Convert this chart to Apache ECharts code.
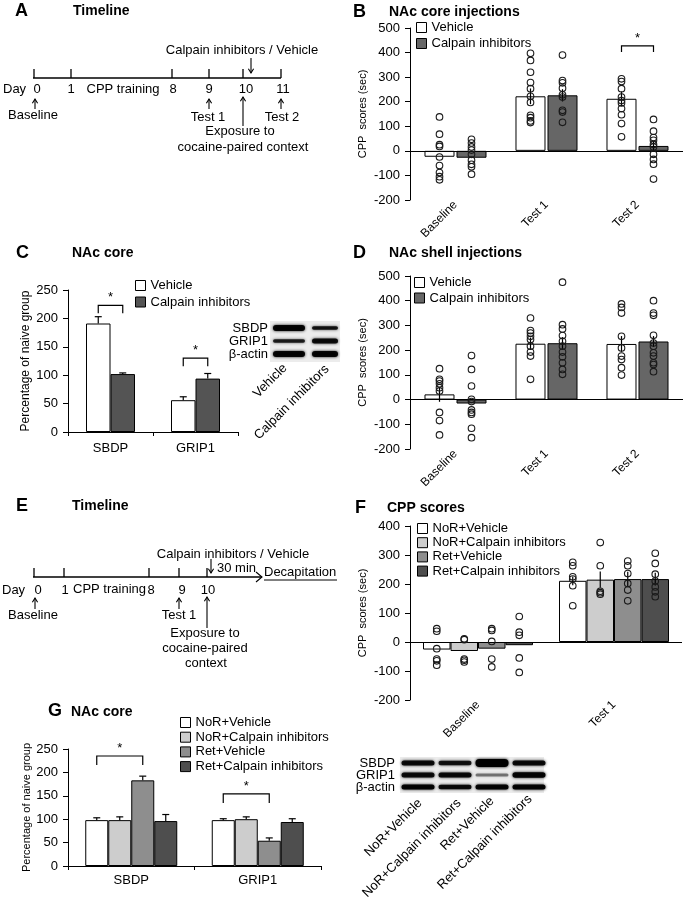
<!DOCTYPE html>
<html><head><meta charset="utf-8">
<script src="https://cdn.jsdelivr.net/npm/echarts@6/dist/echarts.min.js"></script>
<style>html,body{margin:0;padding:0;background:#fff}#c{width:684px;height:899px}</style>
</head><body><div id="c"></div>
<script>
const FONT = '"Liberation Sans", Arial, Helvetica, sans-serif';

// ---------- Panel B : NAc core injections ----------
const cppCats = ['Baseline', 'Test 1', 'Test 2'];
const bVehicleMean = [-24, 222, 212];
const bVehicleSem = [30, 32, 30];
const bCalpainMean = [-28, 226, 20];
const bCalpainSem = [18, 25, 20];
const bVehiclePts = [[138, 68, 25, 18, -25, -60, -88, -105, -118], [397, 368, 320, 278, 253, 222, 197, 145, 135, 122, 115], [293, 282, 253, 219, 205, 195, 172, 147, 111, 57]];
const bCalpainPts = [[47, 32, 16, 3, -14, -38, -55, -65, -95], [390, 286, 277, 255, 228, 219, 165, 158, 116], [128, 80, 54, 43, 26, 16, -14, -35, -54, -115]];
const bSig = [[2, 427, 0, 1]]; // category, bracket level, from bar, to bar

// ---------- Panel D : NAc shell injections ----------
const dVehicleMean = [21, 226, 225];
const dVehicleSem = [30, 25, 32];
const dCalpainMean = [-16, 228, 235];
const dCalpainSem = [28, 25, 22];
const dVehiclePts = [[125, 82, 75, 64, 48, 35, -52, -85, -143], [330, 279, 269, 256, 243, 216, 192, 176, 82], [387, 373, 350, 256, 209, 176, 162, 129, 99]];
const dCalpainPts = [[178, 122, 55, 1, -8, -42, -52, -59, -116, -154], [475, 303, 286, 259, 236, 216, 192, 173, 149, 122, 102], [400, 350, 341, 260, 229, 216, 189, 176, 149, 142, 113]];

// ---------- Panel C : NAc core western blot ----------
const proteinCats = ['SBDP', 'GRIP1'];
const cVehicleMean = [191, 56];
const cVehicleSem = [12, 6];
const cCalpainMean = [102, 94];
const cCalpainSem = [2, 9];
const cSig = [[0, 223, 0, 1], [1, 130, 0, 1]];

// ---------- Panel F : CPP scores ----------
const fCats = ['Baseline', 'Test 1'];
const groupNames = ['NoR+Vehicle', 'NoR+Calpain inhibitors', 'Ret+Vehicle', 'Ret+Calpain inhibitors'];
const fMeans = [[-26, 211], [-31, 215], [-23, 217], [-11, 217]];
const fSems = [[35, 15], [30, 28], [28, 25], [40, 22]];
const fPts = [
  [[46, 37, -23, -59, -65, -80], [275, 263, 225, 217, 194, 125]],
  [[11, 8, -59, -63, -69], [343, 263, 175, 170, 165]],
  [[46, 40, 2, -59, -86], [279, 263, 236, 202, 179, 142]],
  [[88, 34, 23, -55, -105], [306, 271, 234, 210, 190, 173, 156]]
];

// ---------- Panel G : NAc core western blot ----------
const gMeans = [[98, 98], [98, 100], [183, 54], [96, 94]];
const gSems = [[5, 3], [7, 5], [9, 6], [14, 7]];
const gSig = [[0, 235, 0, 2], [1, 154, 0, 2]];

// ---------- styles ----------
const groupColors = ['#ffffff', '#cdcdcd', '#8e8e8e', '#4e4e4e'];
const vehColor = '#ffffff', calpColorBD = '#666666', calpColorC = '#545454';

function yAxis(gi, min, max, interval, name, gap, nameSize) {
  return {
    gridIndex: gi, type: 'value', min, max, interval,
    axisLine: { show: true, lineStyle: { color: '#000', width: 1 } },
    axisTick: { show: true, length: 5, lineStyle: { color: '#000' } },
    axisLabel: { color: '#000', fontSize: 13, fontFamily: FONT, margin: 10 },
    splitLine: { show: false },
    name, nameLocation: 'middle', nameGap: gap,
    nameTextStyle: { color: '#000', fontSize: nameSize, fontFamily: FONT }
  };
}
function xRot(gi, data) {
  return {
    gridIndex: gi, type: 'category', data,
    axisLine: { show: false, onZero: false }, axisTick: { show: false },
    axisLabel: { rotate: 45, interval: 0, margin: 3, fontSize: 12, color: '#000', fontFamily: FONT }
  };
}
function xFlat(gi, data, margin) {
  return {
    gridIndex: gi, type: 'category', data,
    axisLine: { show: true, onZero: false, lineStyle: { color: '#000' } },
    axisTick: { show: true, length: 4, lineStyle: { color: '#000' } },
    axisLabel: { interval: 0, margin, fontSize: 13, color: '#000', fontFamily: FONT }
  };
}
const zeroLine = { silent: true, symbol: 'none', label: { show: false }, lineStyle: { color: '#000', type: 'solid', width: 1 }, data: [{ yAxis: 0 }] };

function bar(name, gi, data, color, width, gap, withZero) {
  const s = {
    type: 'bar', name, xAxisIndex: gi, yAxisIndex: gi, data, barWidth: width, barGap: gap,
    itemStyle: { color, borderColor: '#000', borderWidth: 1 }, z: 2
  };
  if (withZero) s.markLine = zeroLine;
  return s;
}
function dots(gi, pts, offset) {
  return {
    type: 'custom', name: 'pts', xAxisIndex: gi, yAxisIndex: gi, z: 6, silent: true, clip: false,
    data: pts.flatMap((a, ci) => a.map(v => [ci, v])),
    encode: { x: 0, y: 1 },
    renderItem: (p, api) => {
      const c = api.coord([api.value(0), api.value(1)]);
      return { type: 'circle', shape: { cx: c[0] + offset, cy: c[1], r: 3.3 }, style: { fill: 'rgba(0,0,0,0)', stroke: '#1a1a1a', lineWidth: 1.1 } };
    }
  };
}
function errs(gi, means, sems, offset, twoSided, cap) {
  return {
    type: 'custom', name: 'err', xAxisIndex: gi, yAxisIndex: gi, z: 5, silent: true, clip: false,
    data: means.map((m, i) => [i, m, sems[i]]),
    encode: { x: 0, y: 1 },
    renderItem: (p, api) => {
      const ci = api.value(0), m = api.value(1), s = api.value(2);
      const dir = m >= 0 ? 1 : -1;
      const a = api.coord([ci, twoSided ? m - s : m]);
      const b = api.coord([ci, m + dir * s]);
      const x = a[0] + offset;
      const ch = [{ type: 'line', shape: { x1: x, y1: a[1], x2: x, y2: b[1] }, style: { stroke: '#000', lineWidth: 1.2 } }];
      if (cap) ch.push({ type: 'line', shape: { x1: x - cap, y1: b[1], x2: x + cap, y2: b[1] }, style: { stroke: '#000', lineWidth: 1.2 } });
      return { type: 'group', children: ch };
    }
  };
}
function sig(gi, list, offsets, leg) {
  return {
    type: 'custom', name: 'sig', xAxisIndex: gi, yAxisIndex: gi, z: 6, silent: true, clip: false,
    data: list, encode: { x: 0, y: 1 },
    renderItem: (p, api) => {
      const c = api.coord([api.value(0), api.value(1)]);
      const x1 = c[0] + offsets[api.value(2)], x2 = c[0] + offsets[api.value(3)], y = c[1];
      return { type: 'group', children: [
        { type: 'polyline', shape: { points: [[x1, y + leg], [x1, y], [x2, y], [x2, y + leg]] }, style: { stroke: '#000', fill: null, lineWidth: 1.2 } },
        { type: 'text', style: { text: '*', x: (x1 + x2) / 2, y: y - 1, textAlign: 'center', textVerticalAlign: 'bottom', align: 'center', verticalAlign: 'bottom', fontSize: 13, fontFamily: FONT, fill: '#000' } }
      ] };
    }
  };
}

// ---------- graphics (titles, timelines, blots) ----------
const G = [];
function txt(x, y, text, o = {}) {
  const align = o.align || 'left', va = o.va || 'middle';
  G.push({ type: 'text', x, y, rotation: o.rot || 0, z: 10, silent: true,
    style: { text, fontSize: o.size || 13, fontWeight: o.bold ? 'bold' : 'normal', fontFamily: FONT, fill: '#000',
      textAlign: align, textVerticalAlign: va, align, verticalAlign: va } });
}
function ln(x1, y1, x2, y2, w = 1.2) {
  G.push({ type: 'line', silent: true, z: 10, shape: { x1, y1, x2, y2 }, style: { stroke: '#000', lineWidth: w } });
}
function arrow(x1, y1, x2, y2) {
  ln(x1, y1, x2, y2, 1.1);
  const ang = Math.atan2(y2 - y1, x2 - x1), L = 5, a = 0.55;
  G.push({ type: 'polyline', silent: true, z: 10,
    shape: { points: [[x2 - L * Math.cos(ang - a), y2 - L * Math.sin(ang - a)], [x2, y2], [x2 - L * Math.cos(ang + a), y2 - L * Math.sin(ang + a)]] },
    style: { stroke: '#000', fill: null, lineWidth: 1.1 } });
}
function band(cx, cy, w, h, alpha) {
  G.push({ type: 'rect', silent: true, z: 9, shape: { x: cx - w / 2, y: cy - h / 2, width: w, height: h, r: h / 2 },
    style: { fill: `rgba(0,0,0,${alpha})`, shadowBlur: 3, shadowColor: `rgba(0,0,0,${alpha})` } });
}
function bg(x, y, w, h) {
  G.push({ type: 'rect', silent: true, z: 8, shape: { x, y, width: w, height: h }, style: { fill: '#ececec' } });
}

// panel letters and titles
txt(15, 11, 'A', { size: 18, bold: true }); txt(73, 11, 'Timeline', { size: 14, bold: true });
txt(353, 12, 'B', { size: 18, bold: true }); txt(389, 12, 'NAc core injections', { size: 14, bold: true });
txt(16, 253, 'C', { size: 18, bold: true }); txt(72, 253, 'NAc core', { size: 14, bold: true });
txt(353, 253, 'D', { size: 18, bold: true }); txt(389, 253, 'NAc shell injections', { size: 14, bold: true });
txt(16, 506, 'E', { size: 18, bold: true }); txt(72, 506, 'Timeline', { size: 14, bold: true });
txt(355, 508, 'F', { size: 18, bold: true }); txt(387, 508, 'CPP scores', { size: 14, bold: true });
txt(48, 711, 'G', { size: 18, bold: true }); txt(71, 712, 'NAc core', { size: 14, bold: true });

// Timeline A
ln(33, 78, 281, 78, 1.3);
[34, 71, 172, 209, 243, 281].forEach(x => ln(x, 69, x, 78, 1.3));
txt(3, 89, 'Day');
[[37, '0'], [71, '1'], [123, 'CPP training'], [173, '8'], [209, '9'], [246, '10'], [283, '11']].forEach(([x, t]) => txt(x, 89, t, { align: 'center' }));
arrow(35, 109, 35, 99); txt(33, 115, 'Baseline', { align: 'center' });
arrow(209, 109, 209, 99); txt(208, 117, 'Test 1', { align: 'center' });
arrow(281, 109, 281, 99); txt(282, 117, 'Test 2', { align: 'center' });
arrow(243, 126, 243, 97); txt(240, 131, 'Exposure to', { align: 'center' }); txt(243, 147, 'cocaine-paired context', { align: 'center' });
txt(242, 50, 'Calpain inhibitors / Vehicle', { align: 'center' });
arrow(251, 58, 251, 73);

// Timeline E
ln(33, 577, 262, 577, 1.3);
G.push({ type: 'polyline', silent: true, z: 10, shape: { points: [[256, 572], [262, 577], [256, 582]] }, style: { stroke: '#000', fill: null, lineWidth: 1.1 } });
[34, 64, 149, 179, 207].forEach(x => ln(x, 568, x, 577, 1.3));
txt(2, 590, 'Day');
[[38, '0'], [65, '1'], [151, '8'], [182, '9'], [208, '10']].forEach(([x, t]) => txt(x, 590, t, { align: 'center' }));
txt(73, 589, 'CPP training');
arrow(35, 609, 35, 598); txt(33, 615, 'Baseline', { align: 'center' });
arrow(179, 609, 179, 598); txt(179, 615, 'Test 1', { align: 'center' });
arrow(207, 628, 207, 597); txt(205, 633, 'Exposure to', { align: 'center' });
txt(205, 648, 'cocaine-paired', { align: 'center' }); txt(206, 663, 'context', { align: 'center' });
txt(233, 554, 'Calpain inhibitors / Vehicle', { align: 'center' });
arrow(211, 559, 211, 573);
txt(217, 568, '30 min');
txt(264, 572, 'Decapitation'); ln(264, 580, 337, 580, 1);

// Blot C
bg(270, 321, 70, 41);
[[328, [[289, 32, 6, 0.95], [325, 26, 3.5, 0.85]]], [341, [[289, 32, 3.5, 0.8], [325, 26, 5, 0.9]]], [354, [[289, 32, 6, 0.95], [325, 26, 6, 0.95]]]]
  .forEach(([y, lanes]) => lanes.forEach(([x, w, h, a]) => band(x, y, w, h, a)));
txt(268, 328, 'SBDP', { align: 'right' }); txt(268, 341, 'GRIP1', { align: 'right' }); txt(268, 354, 'β-actin', { align: 'right' });
txt(285, 366, 'Vehicle', { align: 'right', rot: Math.PI / 4 });
txt(327, 367, 'Calpain inhibitors', { align: 'right', rot: Math.PI / 4 });

// Blot G
bg(400, 757, 144, 36);
const gLanes = [418, 455, 492, 529];
[[763, [5, 4.5, 8, 5], [0.9, 0.85, 1, 0.9]], [775, [5, 5, 3, 5.5], [0.9, 0.9, 0.45, 0.95]], [787, [5, 4.5, 5, 5], [0.95, 0.9, 0.95, 0.95]]]
  .forEach(([y, hs, as]) => gLanes.forEach((x, i) => band(x, y, 33, hs[i], as[i])));
txt(395, 763, 'SBDP', { align: 'right' }); txt(395, 775, 'GRIP1', { align: 'right' }); txt(395, 787, 'β-actin', { align: 'right' });
[[420, 801], [459, 801], [492, 799], [530, 797]].forEach(([x, y], i) => txt(x, y, groupNames[i], { align: 'right', rot: Math.PI / 4 }));

// ---------- legends ----------
function legendItem(name, color) {
  return { name, icon: 'rect', itemStyle: { color, borderColor: '#000', borderWidth: 1 } };
}
const legTxt = { fontSize: 13, color: '#000', fontFamily: FONT };
const legends = [
  { left: 416, top: 21, orient: 'vertical', itemWidth: 10, itemHeight: 10, itemGap: 3, padding: 0, textStyle: legTxt, selectedMode: false,
    data: [legendItem('Vehicle', vehColor), legendItem('Calpain inhibitors', calpColorBD)] },
  { left: 414, top: 276, orient: 'vertical', itemWidth: 10, itemHeight: 10, itemGap: 2.5, padding: 0, textStyle: legTxt, selectedMode: false,
    data: [legendItem('Vehicle', vehColor), legendItem('Calpain inhibitors', calpColorBD)] },
  { left: 135, top: 279, orient: 'vertical', itemWidth: 10, itemHeight: 10, itemGap: 3.5, padding: 0, textStyle: legTxt, selectedMode: false,
    data: [legendItem('Vehicle', vehColor), legendItem('Calpain inhibitors', calpColorC)] },
  { left: 417, top: 522, orient: 'vertical', itemWidth: 10, itemHeight: 10, itemGap: 1.2, padding: 0, textStyle: legTxt, selectedMode: false,
    data: groupNames.map((n, i) => legendItem(n, groupColors[i])) },
  { left: 180, top: 716, orient: 'vertical', itemWidth: 10, itemHeight: 10, itemGap: 1.7, padding: 0, textStyle: legTxt, selectedMode: false,
    data: groupNames.map((n, i) => legendItem(n, groupColors[i])) }
];

// ---------- series ----------
const series = [];
// B (grid 0)
series.push(bar('Vehicle', 0, bVehicleMean, vehColor, 30, '6.7%', true));
series.push(bar('Calpain inhibitors', 0, bCalpainMean, calpColorBD, 30, '6.7%', false));
series.push(errs(0, bVehicleMean, bVehicleSem, -16, true, 0), errs(0, bCalpainMean, bCalpainSem, 16, true, 0));
series.push(dots(0, bVehiclePts, -16), dots(0, bCalpainPts, 16));
series.push(sig(0, bSig, [-16, 16], 6));
// D (grid 1)
series.push(bar('Vehicle', 1, dVehicleMean, vehColor, 30, '6.7%', true));
series.push(bar('Calpain inhibitors', 1, dCalpainMean, calpColorBD, 30, '6.7%', false));
series.push(errs(1, dVehicleMean, dVehicleSem, -16, true, 0), errs(1, dCalpainMean, dCalpainSem, 16, true, 0));
series.push(dots(1, dVehiclePts, -16), dots(1, dCalpainPts, 16));
// C (grid 2)
series.push(bar('Vehicle', 2, cVehicleMean, vehColor, 24.5, '0%', false));
series.push(bar('Calpain inhibitors', 2, cCalpainMean, calpColorC, 24.5, '0%', false));
series.push(errs(2, cVehicleMean, cVehicleSem, -12.25, false, 3.5), errs(2, cCalpainMean, cCalpainSem, 12.25, false, 3.5));
series.push(sig(2, cSig, [-12.25, 12.25], 8));
// F (grid 3)
const fOff = [-41.25, -13.75, 13.75, 41.25];
groupNames.forEach((n, i) => series.push(bar(n, 3, fMeans[i], groupColors[i], 27.5, '0%', i === 0)));
groupNames.forEach((n, i) => series.push(errs(3, fMeans[i], fSems[i], fOff[i], true, 0)));
groupNames.forEach((n, i) => series.push(dots(3, fPts[i], fOff[i])));
// G (grid 4)
const gOff = [-34.5, -11.5, 11.5, 34.5];
groupNames.forEach((n, i) => series.push(bar(n, 4, gMeans[i], groupColors[i], 23, '0%', false)));
groupNames.forEach((n, i) => series.push(errs(4, gMeans[i], gSems[i], gOff[i], false, 3.5)));
series.push(sig(4, gSig, gOff, 9));

const option = {
  animation: false,
  backgroundColor: '#ffffff',
  textStyle: { fontFamily: FONT },
  grid: [
    { left: 410, top: 28, width: 273, height: 172 },
    { left: 410, top: 276, width: 273, height: 173 },
    { left: 68, top: 290, width: 170, height: 142 },
    { left: 410, top: 526, width: 272, height: 174 },
    { left: 68, top: 749, width: 253, height: 117 }
  ],
  xAxis: [xRot(0, cppCats), xRot(1, cppCats), xFlat(2, proteinCats, 10), xRot(3, fCats), xFlat(4, proteinCats, 8)],
  yAxis: [
    yAxis(0, -200, 500, 100, 'CPP  scores (sec)', 42, 11),
    yAxis(1, -200, 500, 100, 'CPP  scores (sec)', 42, 11),
    yAxis(2, 0, 250, 50, 'Percentage of naive group', 36, 12),
    yAxis(3, -200, 400, 100, 'CPP  scores (sec)', 42, 11),
    yAxis(4, 0, 250, 50, 'Percentage of naive group', 36, 11)
  ],
  legend: legends,
  series,
  graphic: { elements: G }
};
const chart = echarts.init(document.getElementById('c'), null, { renderer: 'canvas' });
chart.setOption(option);
</script></body></html>
